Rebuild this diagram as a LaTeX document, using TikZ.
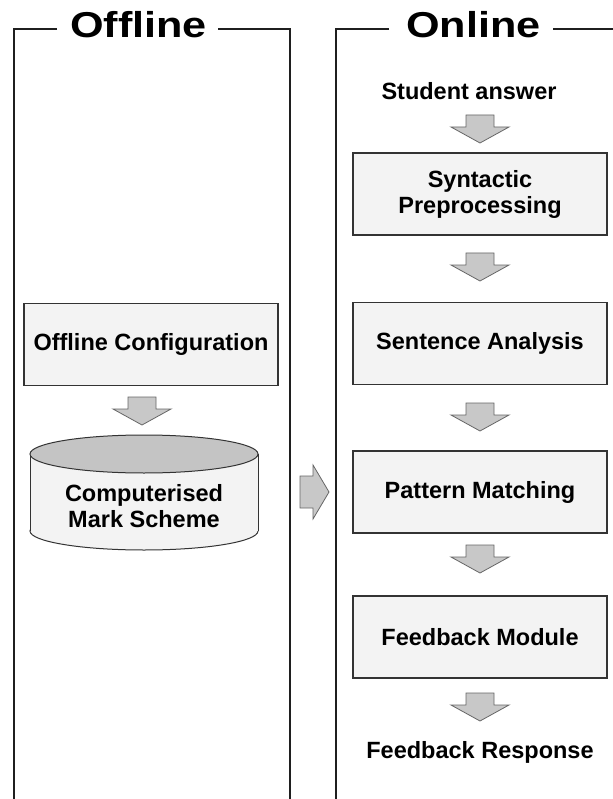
\documentclass[tikz,border=0pt]{standalone}
\usepackage{fontspec}
\setmainfont{Liberation Sans}
\usetikzlibrary{calc}
\definecolor{boxfill}{HTML}{F3F3F3}
\definecolor{arrfill}{HTML}{C8C8C8}
\definecolor{cyltop}{HTML}{C4C4C4}
\definecolor{edge}{HTML}{333333}
\tikzset{
 procbox/.style={draw=edge, line width=1.8pt, fill=boxfill, minimum width=254pt, minimum height=82pt, inner sep=0pt, align=center, font=\fontsize{23.5}{26}\selectfont\bfseries},
 lbl/.style={inner sep=0pt, align=center, font=\fontsize{23.5}{26}\selectfont\bfseries},
 ttl/.style={inner sep=0pt, anchor=base, font=\fontsize{36}{40}\selectfont\bfseries},
 panel/.style={draw=black!88, line width=2.2pt},
 barr/.style={draw=black!60, line width=0.8pt, fill=arrfill, line join=miter},
 cyl/.style={draw=edge, line width=1pt},
}
\newcommand\downblk[1]{\draw[barr] ($(#1)+(-14,0)$) -- ++(28,0) -- ++(0,12) -- ++(15,0) -- ++(-29,16) -- ++(-29,-16) -- ++(15,0) -- cycle;}
\begin{document}
\begin{tikzpicture}[x=1pt,y=-1pt]
\useasboundingbox (0,0) rectangle (612,799);
% panels
\node[ttl] (toff) at (138.5,38) {\scalebox{1.2}[1]{Offline}};
\node[ttl] (ton) at (473.5,38) {\scalebox{1.2}[1]{Online}};
\coordinate (offtl) at (14,29);
\coordinate (offtr) at (290,29);
\coordinate (ontl) at (336,29);
\draw[panel] (57,29) -- (offtl) -- (14,810);
\draw[panel] (218,29) -- (offtr) -- (290,810);
\draw[panel] (389,29) -- (ontl) -- (336,810);
\draw[panel] (553,29) -- (620,29);
% online flow
\node[lbl] (sa) at (469,91) {Student answer};
\node[procbox] (syn) at (480,194) {Syntactic\\Preprocessing};
\node[procbox] (sen) at (480,343.5) {Sentence Analysis};
\node[procbox] (pat) at (480,492) {Pattern Matching};
\node[procbox] (fbm) at (480,637) {Feedback Module};
\node[lbl] (fbr) at (480,752) {Feedback Response};
\coordinate (a0) at (480,115);
\coordinate (a1) at (480,253);
\coordinate (a2) at (480,403);
\coordinate (a3) at (480,545);
\coordinate (a4) at (480,693);
\downblk{a0}
\downblk{a1}
\downblk{a2}
\downblk{a3}
\downblk{a4}
% offline flow
\node[procbox] (ocf) at (151,344.5) {Offline Configuration};
\coordinate (aoff) at (142,397);
\downblk{aoff}
% cylinder
\coordinate (cyltopc) at (144,454);
\coordinate (cylbotc) at (144,531);
\filldraw[cyl, fill=boxfill] (cylbotc) ellipse [x radius=114, y radius=19];
\fill[boxfill] (30,454) rectangle (258,531);
\draw[cyl] (30,454) -- (30,531) (258,454) -- (258,531);
\filldraw[cyl, fill=cyltop] (cyltopc) ellipse [x radius=114, y radius=19];
\node[lbl] (cms) at (144,506) {Computerised\\Mark Scheme};
% horizontal arrow between panels
\coordinate (harr) at (300,492);
\draw[barr] ($(harr)+(0,-16)$) -- ++(13,0) -- ++(0,-11) -- ++(16,27) -- ++(-16,27) -- ++(0,-11) -- ++(-13,0) -- cycle;
\end{tikzpicture}
\end{document}
